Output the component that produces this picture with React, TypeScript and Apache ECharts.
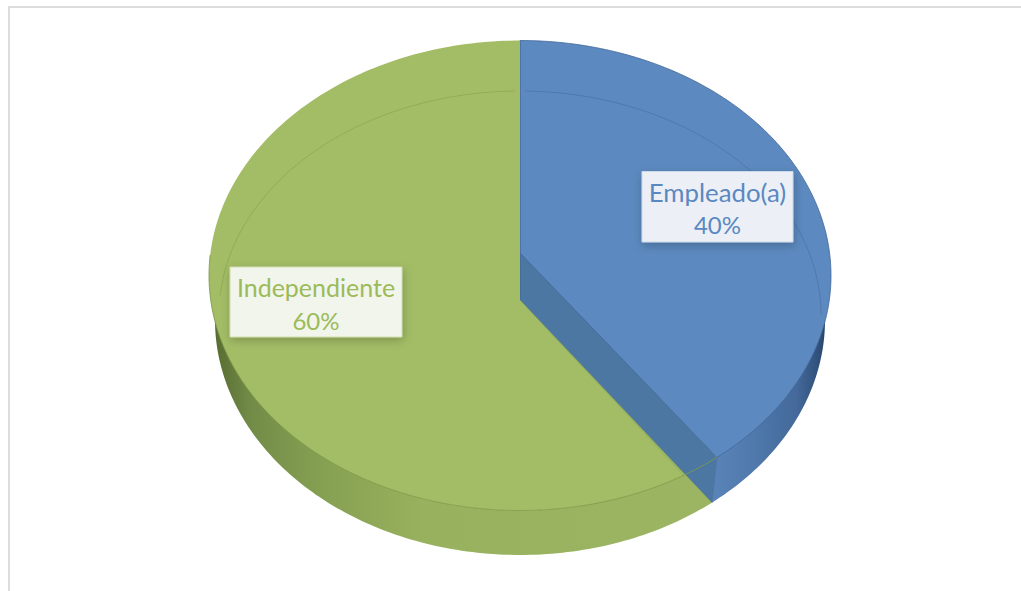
import React, { useEffect, useRef } from "react";
import * as echarts from "echarts";

const categories = ["Empleado(a)", "Independiente"];
const values = [40, 60];
const percentLabels = ["40%", "60%"];

const CX = 520;
const TOP_CY = 275.5;
const BOTTOM_CY = 320;
const RX = 311;
const RX_LOW = 305;
const RY = 235;

const onEllipse = (t: number, cy: number, rx = RX, ry = RY): number[] => {
  const a = (t * Math.PI) / 180;
  return [CX + rx * Math.sin(a), cy - ry * Math.cos(a)];
};
const arc = (from: number, to: number, cy: number, rx = RX, ry = RY): number[][] => {
  const pts: number[][] = [];
  const n = Math.max(2, Math.ceil(Math.abs(to - from)));
  for (let i = 0; i <= n; i++) pts.push(onEllipse(from + ((to - from) * i) / n, cy, rx, ry));
  return pts;
};

const total = values.reduce((a, b) => a + b, 0);

const blueSide = new echarts.graphic.LinearGradient(0, 0, 1, 0, [
  { offset: 0, color: "#5a84b8" },
  { offset: 0.35, color: "#5079ad" },
  { offset: 0.72, color: "#44699a" },
  { offset: 0.92, color: "#2f4f7a" },
  { offset: 1, color: "#1f3a5e" },
]);
const greenSide = new echarts.graphic.LinearGradient(0, 0, 1, 0, [
  { offset: 0, color: "#55692f" },
  { offset: 0.08, color: "#728c48" },
  { offset: 0.22, color: "#86a052" },
  { offset: 0.42, color: "#98b15e" },
  { offset: 1, color: "#9cb562" },
]);

const styles = [
  {
    top: "#5c89bf",
    edge: "#44689a",
    wall: "#4b77a2",
    text: "#5a88c2",
    box: "#ecf0f6",
    boxEdge: "#cbd9ea",
    rect: [642, 171.5, 151, 70.5],
    nameSize: 25.8,
    nameDy: 20,
    pctDy: 52.5,
  },
  {
    top: "#a3bd66",
    edge: "#7f9a48",
    wall: "#99b25f",
    text: "#9bbb59",
    box: "#f2f5ec",
    boxEdge: "#cfdcae",
    rect: [230, 267, 172, 70],
    nameSize: 25,
    nameDy: 20,
    pctDy: 53,
  },
];

const FONT = 'Lato, "Noto Sans", sans-serif';

const label = (i: number) => {
  const s = styles[i];
  const [x, y, w, h] = s.rect;
  return [
    {
      type: "rect",
      shape: { x, y, width: w, height: h },
      style: {
        fill: s.box,
        stroke: s.boxEdge,
        lineWidth: 1,
        shadowBlur: 10,
        shadowOffsetX: 1,
        shadowOffsetY: 3,
        shadowColor: "rgba(0,0,0,0.22)",
      },
    },
    {
      type: "text",
      style: { x: x + w / 2, y: y + s.nameDy, text: categories[i], fill: s.text, font: `${s.nameSize}px ${FONT}`, align: "center", verticalAlign: "middle" },
    },
    {
      type: "text",
      style: { x: x + w / 2, y: y + s.pctDy, text: percentLabels[i], fill: s.text, font: `24px ${FONT}`, align: "center", verticalAlign: "middle" },
    },
  ];
};

const renderItem = (params: any, api: any) => {
  const i = params.dataIndex;
  const s = styles[i];
  const sweep = (api.value(0) / total) * 360;
  const poly = (points: number[][], fill: any) => ({
    type: "polygon",
    shape: { points },
    style: { fill, stroke: "none", lineWidth: 0 },
  });
  const line = (points: number[][], stroke: string, lineWidth = 1, opacity = 1) => ({
    type: "polyline",
    shape: { points },
    style: { fill: "none", stroke, lineWidth, opacity },
  });
  let children: any[];
  if (i === 0) {
    const topEnd = sweep - 3.3;
    const sideEnd = sweep - 3;
    const apexTop = [CX, TOP_CY - 22.5];
    const apexBottom = [CX, TOP_CY + 24.5];
    const corner = onEllipse(topEnd, TOP_CY);
    const cornerLow = onEllipse(sideEnd, BOTTOM_CY, RX_LOW);
    children = [
      poly([...arc(75, topEnd, TOP_CY, RX - 2), corner, cornerLow, ...arc(sideEnd, 75, BOTTOM_CY, RX_LOW)], blueSide),
      poly([[apexTop[0], apexTop[1] - 2], corner, cornerLow, [cornerLow[0] - 2, cornerLow[1]], [apexBottom[0] - 2, apexBottom[1]]], s.wall),
      poly([apexTop, ...arc(0, topEnd, TOP_CY)], s.top),
      line([onEllipse(0, TOP_CY), apexTop, apexBottom], s.edge, 1.2),
      line([apexTop, corner], s.edge, 1, 0.8),
      line(arc(0, topEnd, TOP_CY), s.edge, 1, 0.8),
      line([corner, cornerLow], "#44699f", 1, 0.8),
      line(arc(1, 90, 315, 301, 224), "#3f6596", 0.8, 0.55),
    ];
  } else {
    const start = 360 - sweep;
    const topStart = start + 4.4;
    const sideStart = start - 3;
    const apex = [CX, TOP_CY + 24.5];
    const cornerLow = onEllipse(sideStart, BOTTOM_CY, RX_LOW);
    children = [
      poly([apex, cornerLow, ...arc(sideStart, 285, BOTTOM_CY, RX_LOW), ...arc(285, topStart, TOP_CY, RX - 2)], greenSide),
      poly([apex, ...arc(topStart, 360, TOP_CY)], s.top),
      line(arc(topStart - 7.7, 275, TOP_CY), s.edge, 1, 0.85),
      line([apex, cornerLow], s.edge, 0.8, 0.5),
      line(arc(275, 359, 315, 301, 224), "#7a9545", 0.8, 0.55),
    ];
  }
  return { type: "group", children: [...children, ...label(i)] };
};

const option: any = {
  animation: false,
  backgroundColor: "#ffffff",
  graphic: [
    { type: "rect", silent: true, shape: { x: 8, y: 6, width: 1013, height: 2 }, style: { fill: "#dcdcdc" } },
    { type: "rect", silent: true, shape: { x: 8, y: 6, width: 2, height: 585 }, style: { fill: "#dcdcdc" } },
  ],
  series: [
    {
      type: "custom",
      coordinateSystem: "none",
      renderItem,
      data: values.map((v, i) => ({ name: categories[i], value: v })),
      clip: false,
    },
  ],
};

export default function App() {
  const ref = useRef<HTMLDivElement>(null);
  useEffect(() => {
    const chart = echarts.init(ref.current!, null, { renderer: "svg" });
    chart.setOption(option);
    return () => chart.dispose();
  }, []);
  return <div ref={ref} style={{ position: "absolute", left: 0, top: 0, width: 1021, height: 591 }} />;
}
